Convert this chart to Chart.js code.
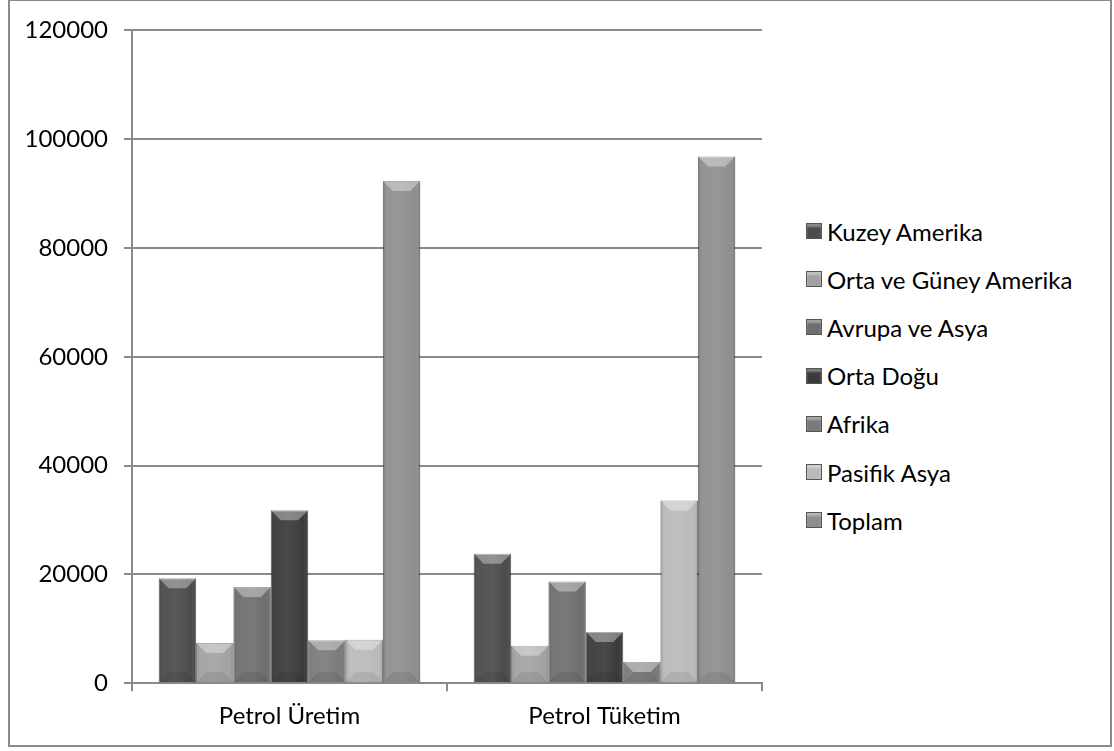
<!DOCTYPE html>
<html>
<head>
<meta charset="utf-8">
<script src="https://cdn.jsdelivr.net/npm/chart.js@4"></script>
<style>
  html, body { margin: 0; padding: 0; background: #fff; }
  #frame {
    position: absolute; left: 8px; top: 0; width: 1100px; height: 744px;
    border: 2px solid #8a8a8a; border-top-width: 1px;
  }
  #wrap { position: absolute; left: 0; top: 0; width: 770px; height: 751px; }
  #legend {
    position: absolute; left: 806px; top: 207px;
    list-style: none; margin: 0; padding: 0;
    font-family: Lato, "Open Sans", sans-serif; font-size: 24px; font-weight: 400; color: #000;
  }
  #legend li { height: 48.2px; display: flex; align-items: center; white-space: nowrap; }
  #legend .box {
    display: inline-block; width: 14px; height: 14px; margin-right: 5px;
    border: 1px solid #555;
    box-shadow: inset 0 3px 2px rgba(255,255,255,0.35);
  }
</style>
</head>
<body>
<div id="frame"></div>
<div id="wrap"><canvas id="chart"></canvas></div>
<ul id="legend"></ul>
<script>
// Kategoriler ve seriler
const categories = ['Petrol Üretim', 'Petrol Tüketim'];
const seriesNames = ['Kuzey Amerika', 'Orta ve Güney Amerika', 'Avrupa ve Asya', 'Orta Doğu', 'Afrika', 'Pasifik Asya', 'Toplam'];
const kuzeyAmerika = [19300, 23800];
const ortaGuneyAmerika = [7400, 6900];
const avrupaAsya = [17700, 18700];
const ortaDogu = [31800, 9400];
const afrika = [7900, 3900];
const pasifikAsya = [8000, 33600];
const toplam = [92300, 96800];
const yTicks = [0, 20000, 40000, 60000, 80000, 100000, 120000];

const seriesValues = [kuzeyAmerika, ortaGuneyAmerika, avrupaAsya, ortaDogu, afrika, pasifikAsya, toplam];
const seriesColors = ['#4b4b4b', '#a2a2a2', '#6e6e6e', '#3a3a3a', '#7a7a7a', '#bababa', '#8e8e8e'];

const fontFamily = 'Lato, "Open Sans", sans-serif';

// Excel tarzı kabartma efekti
const bevelPlugin = {
    id: 'bevel',
    afterDatasetsDraw(chart) {
        const ctx = chart.ctx;
        chart.data.datasets.forEach((ds, di) => {
            chart.getDatasetMeta(di).data.forEach(bar => {
                const w = bar.width;
                const left = bar.x - w / 2;
                const top = bar.y;
                const bottom = bar.base;
                const h = bottom - top;
                const d = Math.min(10, h / 2);
                ctx.save();
                const g = ctx.createLinearGradient(left, 0, left + w, 0);
                g.addColorStop(0, 'rgba(0,0,0,0.18)');
                g.addColorStop(0.12, 'rgba(255,255,255,0.05)');
                g.addColorStop(0.5, 'rgba(255,255,255,0.08)');
                g.addColorStop(0.88, 'rgba(255,255,255,0.0)');
                g.addColorStop(1, 'rgba(0,0,0,0.22)');
                ctx.fillStyle = g;
                ctx.fillRect(left, top, w, h);
                // üst eğim
                ctx.beginPath();
                ctx.moveTo(left, top);
                ctx.lineTo(left + w, top);
                ctx.lineTo(left + w - d, top + d);
                ctx.lineTo(left + d, top + d);
                ctx.closePath();
                ctx.fillStyle = 'rgba(255,255,255,0.35)';
                ctx.fill();
                // alt eğim
                ctx.beginPath();
                ctx.moveTo(left, bottom);
                ctx.lineTo(left + w, bottom);
                ctx.lineTo(left + w - d, bottom - d);
                ctx.lineTo(left + d, bottom - d);
                ctx.closePath();
                ctx.fillStyle = 'rgba(0,0,0,0.08)';
                ctx.fill();
                ctx.restore();
            });
        });
    }
};

// HTML açıklama (legend)
const htmlLegendPlugin = {
    id: 'htmlLegend',
    afterUpdate(chart) {
        const ul = document.getElementById('legend');
        ul.innerHTML = '';
        const items = chart.options.plugins.legend.labels.generateLabels(chart);
        items.forEach(item => {
            const li = document.createElement('li');
            const box = document.createElement('span');
            box.className = 'box';
            box.style.background = item.fillStyle;
            li.appendChild(box);
            li.appendChild(document.createTextNode(item.text));
            ul.appendChild(li);
        });
    }
};

const ctx = document.getElementById('chart').getContext('2d');

new Chart(ctx, {
    type: 'bar',
    data: {
        labels: categories,
        datasets: seriesNames.map((name, i) => ({
            label: name,
            data: seriesValues[i],
            backgroundColor: seriesColors[i],
            borderColor: 'rgba(40,40,40,0.6)',
            borderWidth: 1,
            barPercentage: 1,
            categoryPercentage: 0.83
        }))
    },
    options: {
        responsive: true,
        maintainAspectRatio: false,
        animation: false,
        layout: {
            padding: { top: 14.5, right: 8, bottom: 9, left: 11 }
        },
        plugins: {
            tooltip: { enabled: false },
            legend: { display: false }
        },
        scales: {
            x: {
                border: { color: '#8a8a8a', width: 2 },
                grid: {
                    offset: true,
                    drawOnChartArea: false,
                    color: '#8a8a8a',
                    lineWidth: 2,
                    tickLength: 8
                },
                ticks: {
                    color: '#000',
                    padding: 11,
                    font: { family: fontFamily, size: 24 }
                }
            },
            y: {
                min: 0,
                max: 120000,
                afterBuildTicks: scale => {
                    scale.ticks = yTicks.map(v => ({ value: v }));
                },
                afterFit: scale => {
                    scale.width = 121;
                },
                border: { color: '#8a8a8a', width: 2 },
                grid: {
                    color: '#8a8a8a',
                    lineWidth: 2,
                    tickLength: 8
                },
                ticks: {
                    color: '#000',
                    padding: 16,
                    font: { family: fontFamily, size: 24 },
                    callback: v => String(v)
                }
            }
        }
    },
    plugins: [bevelPlugin, htmlLegendPlugin]
});
</script>
</body>
</html>
